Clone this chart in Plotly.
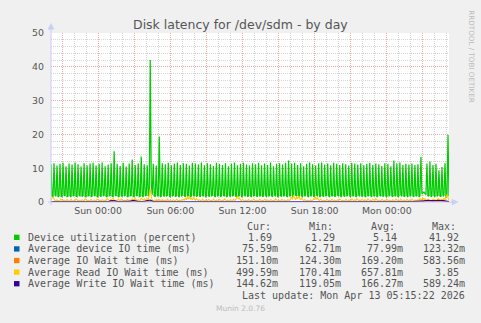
import plotly.graph_objects as go
import pandas as pd

W, H = 481, 323

# ---------------- data ----------------
START = "2026-04-11 20:05"
X_END = "2026-04-13 05:10"
STEP = "5min"

# Device utilization (percent): one peak sample then two low samples every 15 min
util_peaks = [
    11.2, 11.5, 10.8, 11.3, 11.6, 10.6, 11.4, 11.1, 11.7, 11.2, 10.5, 11.5, 10.9, 11.4,
    11.6, 10.8, 11.3, 11.7, 10.6, 11.1, 11.5, 15.0, 11.3, 10.7, 11.6, 10.5, 11.4,
    12.6, 11.0, 11.4, 13.5, 11.2, 10.9, 42.0, 11.3, 10.8, 19.4,
    11.5, 11.2, 11.6, 10.9, 11.4, 11.7, 11.0, 11.5, 11.3, 10.8, 11.6, 11.4, 11.1, 11.7,
    10.9, 11.5, 11.2, 10.7, 11.6, 11.3, 11.0, 11.5, 10.6, 11.4, 11.7, 10.9, 11.3, 11.6,
    11.1, 10.8, 11.5, 11.2, 11.6, 10.9, 11.4, 11.0, 11.7, 10.6, 11.3, 11.5, 11.1, 11.6,
    12.3,
    11.4, 11.6, 11.0, 11.5, 10.6, 11.3, 11.7, 11.2, 10.8, 11.5, 11.7, 11.1, 11.4, 10.9,
    11.6, 11.3, 11.0, 11.5, 11.2, 10.8, 11.6, 11.4, 11.1, 11.5, 10.9, 11.3, 11.6, 11.0,
    11.4, 11.2, 10.7, 11.5, 11.3, 10.6,
    12.3,
    11.5, 11.7, 11.0, 11.3, 11.1, 11.4, 11.0, 11.2,
    13.4, 3.0,
    11.4, 12.0, 11.0, 11.3, 9.4, 10.4, 11.5,
    19.9,
]
util_lows = [
    1.8, 1.6, 2.0, 1.7, 1.5, 1.9, 1.7, 1.6, 2.1, 1.8, 1.6, 1.7, 1.9, 1.5, 1.8, 2.0, 1.7, 1.6, 1.9, 1.8,
    1.6, 2.0, 1.7, 1.5, 1.8, 1.9, 1.6, 1.7, 2.1, 1.8, 1.5, 1.7, 1.9, 1.6, 1.8, 2.0, 1.7, 1.5, 1.8, 1.9,
    1.7, 1.6, 2.0, 1.8, 1.5, 1.7, 1.9, 1.6, 1.8, 2.1, 1.7, 1.5, 1.8, 1.9, 1.6, 1.7, 2.0, 1.8, 1.6, 1.7,
    1.9, 1.5, 1.8, 2.0, 1.7, 2.6, 5.5, 2.2, 1.8, 1.6, 1.9, 1.7, 1.5, 1.8, 2.0, 1.6, 1.7, 1.9, 1.8, 1.5,
    1.7, 2.0, 1.6, 1.8, 1.9, 1.5, 1.7, 2.1, 1.8, 1.6, 1.7, 1.9, 1.5, 1.8, 2.0, 1.7, 1.6, 1.9, 1.8, 1.6,
    2.0, 1.7, 1.5, 1.8, 1.9, 1.6, 1.7, 2.1, 1.8, 1.5, 1.7, 1.9, 1.6, 1.8, 2.0, 1.7, 1.5, 1.8, 1.9, 1.6,
    1.7, 2.0, 1.8, 1.6, 1.7, 1.9, 1.5, 1.8, 2.1, 1.7, 1.6, 1.8, 1.9, 1.5, 1.7, 2.0, 1.8, 1.6, 1.7, 1.9,
    1.6, 1.8, 2.0, 1.5, 1.7, 1.9, 1.8, 1.6, 2.1, 1.7, 1.5, 1.8, 1.9, 1.6, 1.7, 2.0, 1.8, 1.5, 1.7, 1.9,
    1.6, 1.8, 2.0, 1.7, 1.5, 1.9, 1.8, 1.6, 1.7, 2.1, 1.8, 1.5, 1.7, 1.9, 1.6, 1.8, 2.0, 1.7, 1.5, 1.8,
    1.9, 1.6, 1.7, 2.0, 1.8, 1.5, 1.7, 1.9, 1.6, 1.8, 2.1, 1.7, 1.5, 1.8, 1.9, 1.6, 1.7, 2.0, 1.8, 1.6,
    1.7, 1.9, 1.5, 1.8, 2.0, 1.7, 1.6, 1.9, 1.8, 1.5, 1.7, 2.1, 1.8, 1.6, 1.7, 1.9, 1.5, 1.8, 2.0, 1.7,
    1.6, 1.9, 1.8, 1.5, 1.7, 2.0, 1.8, 1.6, 1.7, 1.9, 1.5, 1.8, 2.1, 1.7, 1.6, 1.8, 1.9, 1.5, 1.7, 2.0,
    1.8, 1.6, 1.7, 1.9, 1.5, 1.8, 2.4, 2.6, 2.5, 2.2, 1.7, 1.9, 1.6, 1.8, 2.0, 1.5, 1.7, 1.9, 1.8, 1.6,
    1.7, 2.0, 1.29, 1.8, 1.69,
]

# Average Read IO Wait time (ms), 5-min samples
read_wait = [
    0.45, 1.30, 1.45, 0.80, 0.40, 0.35, 0.70, 0.45, 0.30, 0.55, 0.90, 0.40, 0.35, 0.60, 0.45, 0.30, 0.75, 0.50, 0.35, 0.45,
    0.85, 0.40, 0.30, 0.55, 0.40, 0.95, 0.45, 0.35, 0.60, 0.40, 0.30, 0.70, 0.45, 0.35, 1.00, 0.50, 0.40, 0.55, 0.35, 0.45,
    0.80, 0.40, 0.30, 0.65, 0.45, 0.35, 0.90, 0.50, 0.40, 0.55, 0.35, 0.75, 0.45, 0.30, 0.60, 0.40, 1.10, 0.55, 0.40, 0.45,
    0.70, 1.05, 1.20, 0.60, 0.40, 0.55, 0.35, 0.80, 0.45, 0.40, 0.95, 0.50, 0.35, 0.60, 0.40, 0.30, 0.85, 0.45, 0.40, 0.65,
    0.45, 0.95, 0.60, 0.40, 1.10, 0.55, 0.35, 0.70, 0.45, 0.50, 1.20, 0.80, 0.50, 0.95, 0.60, 0.45, 1.15, 0.70, 2.00, 3.85,
    1.60, 0.60, 0.40, 0.55, 0.35, 0.80, 0.45, 0.40, 0.65, 0.35, 0.30, 0.75, 0.45, 0.35, 0.55, 0.40, 0.90, 0.45, 0.35, 0.60,
    0.40, 0.35, 0.70, 0.45, 0.30, 0.85, 0.50, 0.40, 0.55, 0.35, 0.65, 0.45, 0.80, 0.55, 1.20, 0.70, 1.50, 0.90, 1.65, 0.80,
    1.20, 0.60, 1.40, 0.75, 0.55, 1.00, 0.50, 0.40, 0.70, 0.45, 0.35, 0.85, 0.45, 0.35, 0.60, 0.40, 0.30, 0.75, 0.45, 0.40,
    0.55, 0.35, 0.90, 0.45, 0.35, 0.65, 0.40, 0.30, 0.80, 0.50, 0.35, 0.55, 0.40, 0.95, 0.45, 0.35, 0.60, 0.40, 0.30, 0.70,
    0.45, 0.40, 0.85, 0.50, 0.60, 1.10, 1.70, 0.90, 1.30, 0.60, 0.45, 0.80, 0.40, 0.35, 0.60, 0.45, 0.30, 0.75, 0.45, 0.35,
    0.55, 0.40, 0.90, 0.45, 0.35, 0.60, 0.40, 0.30, 0.80, 0.45, 0.35, 0.55, 0.40, 0.85, 0.45, 0.35, 0.65, 0.40, 0.30, 0.75,
    0.50, 0.35, 0.55, 0.40, 0.95, 0.45, 0.35, 0.60, 0.40, 0.30, 0.80, 0.45, 0.40, 0.65, 0.35, 0.30, 0.70, 0.50, 0.45, 0.90,
    1.40, 0.80, 2.05, 1.10, 0.70, 1.60, 0.90, 1.80, 0.85, 0.60, 1.20, 0.55, 0.40, 0.75, 0.45, 0.35, 0.60, 0.40, 0.30, 0.70,
    0.45, 0.55, 1.00, 0.65, 1.50, 0.80, 1.35, 0.60, 0.45, 0.90, 0.45, 0.35, 0.60, 0.40, 0.30, 0.75, 0.45, 0.40, 0.55, 0.35,
    0.85, 0.45, 0.35, 0.60, 0.40, 0.30, 0.70, 0.45, 0.95, 0.50, 0.35, 0.55, 0.40, 0.30, 0.80, 0.45, 0.35, 0.65, 0.40, 0.30,
    0.90, 0.50, 0.40, 0.70, 0.45, 1.00, 0.55, 0.35, 0.60, 0.40, 0.85, 0.45, 0.35, 0.70, 0.40, 0.30, 0.95, 0.50, 0.40, 0.55,
    0.35, 0.80, 0.45, 0.35, 1.00, 0.50, 0.40, 0.60, 0.35, 0.30, 0.75, 0.45, 0.40, 0.55, 0.35, 0.85, 0.45, 0.35, 0.60, 0.40,
    0.30, 0.70, 0.45, 0.35, 0.90, 0.50, 0.40, 0.55, 0.35, 0.80, 0.45, 0.30, 0.65, 0.40, 0.35, 0.75, 0.45, 0.40, 0.60, 0.35,
    0.85, 0.45, 0.35, 0.60, 0.40, 0.55, 0.70, 0.45, 1.10, 0.60, 0.90, 1.25, 0.70, 1.00, 0.55, 0.40, 0.85, 0.45, 0.35, 0.60,
    0.40, 0.90, 0.50, 0.35, 0.70, 0.45, 1.05, 0.55, 0.40, 0.80, 0.45, 0.60, 1.20, 0.50, 1.40, 2.20, 1.30, 0.50,
]

# Average Write IO Wait time (ms), 5-min samples
write_wait = [
    0.15, 0.14, 0.16, 0.15, 0.13, 0.15, 0.16, 0.14, 0.15, 0.15, 0.14, 0.16, 0.15, 0.13, 0.15, 0.16, 0.14, 0.15, 0.15, 0.14,
    0.16, 0.15, 0.14, 0.15, 0.13, 0.16, 0.15, 0.14, 0.15, 0.16, 0.14, 0.15, 0.13, 0.15, 0.16, 0.14, 0.15, 0.15, 0.14, 0.16,
    0.15, 0.14, 0.15, 0.16, 0.13, 0.15, 0.14, 0.16, 0.15, 0.14, 0.15, 0.13, 0.16, 0.15, 0.14, 0.15, 0.16, 0.14, 0.15, 0.35,
    0.45, 0.50, 0.42, 0.48, 0.30, 0.16, 0.15, 0.14, 0.15, 0.13, 0.16, 0.15, 0.14, 0.15, 0.16, 0.14, 0.15, 0.13, 0.15, 0.20,
    0.40, 0.48, 0.45, 0.50, 0.42, 0.30, 0.15, 0.14, 0.16, 0.15, 0.14, 0.15, 0.13, 0.16, 0.35, 0.45, 0.50, 0.42, 0.55, 0.59,
    0.40, 0.18, 0.15, 0.14, 0.16, 0.15, 0.13, 0.15, 0.14, 0.16, 0.15, 0.14, 0.15, 0.16, 0.13, 0.15, 0.14, 0.15, 0.16, 0.14,
    0.15, 0.16, 0.14, 0.15, 0.13, 0.15, 0.16, 0.14, 0.15, 0.15, 0.14, 0.16, 0.15, 0.13, 0.15, 0.16, 0.14, 0.15, 0.15, 0.14,
    0.16, 0.15, 0.14, 0.15, 0.13, 0.16, 0.15, 0.14, 0.15, 0.16, 0.14, 0.15, 0.13, 0.15, 0.16, 0.14, 0.15, 0.15, 0.14, 0.16,
    0.15, 0.14, 0.15, 0.16, 0.13, 0.15, 0.14, 0.16, 0.15, 0.14, 0.15, 0.13, 0.16, 0.15, 0.14, 0.15, 0.16, 0.14, 0.15, 0.15,
    0.14, 0.16, 0.15, 0.13, 0.15, 0.16, 0.14, 0.15, 0.15, 0.14, 0.16, 0.15, 0.14, 0.15, 0.13, 0.16, 0.15, 0.14, 0.15, 0.16,
    0.15, 0.14, 0.16, 0.15, 0.13, 0.15, 0.16, 0.14, 0.15, 0.15, 0.14, 0.16, 0.15, 0.13, 0.15, 0.16, 0.14, 0.15, 0.15, 0.14,
    0.16, 0.15, 0.14, 0.15, 0.13, 0.16, 0.15, 0.14, 0.15, 0.16, 0.14, 0.15, 0.13, 0.15, 0.16, 0.14, 0.15, 0.15, 0.14, 0.16,
    0.15, 0.14, 0.15, 0.16, 0.13, 0.15, 0.14, 0.16, 0.15, 0.14, 0.15, 0.13, 0.16, 0.15, 0.14, 0.15, 0.16, 0.14, 0.15, 0.15,
    0.14, 0.16, 0.15, 0.13, 0.15, 0.16, 0.14, 0.15, 0.15, 0.14, 0.16, 0.15, 0.14, 0.15, 0.13, 0.16, 0.15, 0.14, 0.15, 0.16,
    0.15, 0.14, 0.16, 0.15, 0.13, 0.15, 0.16, 0.14, 0.15, 0.15, 0.14, 0.16, 0.15, 0.13, 0.15, 0.16, 0.14, 0.15, 0.15, 0.14,
    0.16, 0.15, 0.14, 0.15, 0.13, 0.16, 0.15, 0.14, 0.15, 0.16, 0.14, 0.15, 0.13, 0.15, 0.16, 0.14, 0.15, 0.15, 0.14, 0.16,
    0.15, 0.14, 0.15, 0.16, 0.13, 0.15, 0.14, 0.16, 0.15, 0.14, 0.15, 0.13, 0.16, 0.15, 0.14, 0.15, 0.16, 0.14, 0.15, 0.15,
    0.14, 0.16, 0.15, 0.13, 0.15, 0.16, 0.14, 0.15, 0.15, 0.14, 0.16, 0.15, 0.14, 0.15, 0.13, 0.16, 0.15, 0.14, 0.15, 0.16,
    0.15, 0.14, 0.16, 0.15, 0.13, 0.15, 0.14, 0.16, 0.15, 0.14, 0.15, 0.16, 0.35, 0.45, 0.50, 0.42, 0.48, 0.52, 0.45, 0.40,
    0.45, 0.50, 0.42, 0.48, 0.40, 0.46, 0.50, 0.44, 0.38, 0.45, 0.50, 0.42, 0.47, 0.40, 0.35, 0.30, 0.20, 0.14,
]

# Hourly samples of the two nearly-flat series
HOURLY = "1h"
dev_io_time = [0.08, 0.07, 0.08, 0.08, 0.09, 0.08, 0.07, 0.08, 0.09, 0.12, 0.08, 0.07, 0.08, 0.08, 0.07, 0.08, 0.08,
               0.07, 0.08, 0.08, 0.07, 0.08, 0.08, 0.09, 0.08, 0.07, 0.08, 0.08, 0.07, 0.08, 0.08, 0.09, 0.08, 0.076]
io_wait_time = [0.17, 0.16, 0.17, 0.18, 0.17, 0.16, 0.17, 0.19, 0.20, 0.58, 0.17, 0.16, 0.16, 0.17, 0.16, 0.17, 0.16,
                0.16, 0.17, 0.16, 0.17, 0.16, 0.17, 0.16, 0.16, 0.17, 0.16, 0.17, 0.16, 0.18, 0.17, 0.19, 0.17, 0.15]

x_tickvals = ["2026-04-11 21:00", "2026-04-12 00:00", "2026-04-12 03:00", "2026-04-12 06:00",
              "2026-04-12 09:00", "2026-04-12 12:00", "2026-04-12 15:00", "2026-04-12 18:00",
              "2026-04-12 21:00", "2026-04-13 00:00", "2026-04-13 03:00"]
x_ticktext = ["", "Sun 00:00", "", "Sun 06:00", "", "Sun 12:00", "", "Sun 18:00", "", "Mon 00:00", ""]
y_tickvals = [0, 10, 20, 30, 40, 50]

series_names = ["Device utilization (percent)", "Average device IO time (ms)", "Average IO Wait time (ms)",
                "Average Read IO Wait time (ms)", "Average Write IO Wait time (ms)"]
series_colors = ["#00CC00", "#0066B3", "#FF8000", "#FFCC00", "#330099"]
cur_vals = ["1.69", "75.59m", "151.10m", "499.59m", "144.62m"]
min_vals = ["1.29", "62.71m", "124.30m", "170.41m", "119.05m"]
avg_vals = ["5.14", "77.99m", "169.20m", "657.81m", "166.27m"]
max_vals = ["41.92", "123.32m", "583.56m", "3.85", "589.24m"]
col_headers = ["Cur:", "Min:", "Avg:", "Max:"]

TITLE = "Disk latency for /dev/sdm - by day"
LAST_UPDATE = "Last update: Mon Apr 13 05:15:22 2026"
SIDE = "RRDTOOL / TOBI OETIKER"
FOOT = "Munin 2.0.76"

# ---------------- build series ----------------
x5 = pd.date_range(START, periods=len(read_wait), freq=STEP)
xh = pd.date_range(START, periods=len(dev_io_time), freq=HOURLY)

util = []
pi, li = 0, 0
for i in range(len(read_wait)):
    if i % 3 == 0:
        util.append(util_peaks[pi]); pi += 1
    else:
        util.append(util_lows[li]); li += 1

# ---------------- figure ----------------
def px(v):
    return v / W

def py(v):
    return 1 - v / H

PL, PR, PT, PB = 51, 449, 28, 203
TXT = "#555555"
AXC = "#C8CEF5"

fig = go.Figure()
traces_y = [(x5, util), (xh, dev_io_time), (xh, io_wait_time), (x5, read_wait), (x5, write_wait)]
widths = [1.25, 1, 1, 1.1, 1.1]
for (xs, ys), name, col, lw in zip(traces_y, series_names, series_colors, widths):
    fig.add_trace(go.Scatter(x=xs, y=ys, mode="lines", name=name,
                             line=dict(color=col, width=lw), hoverinfo="skip"))

fig.update_layout(
    width=W, height=H, margin=dict(l=0, r=0, t=0, b=0),
    paper_bgcolor="#F0F0F0", plot_bgcolor="#FFFFFF",
    showlegend=False,
    font=dict(family="DejaVu Sans", color=TXT, size=10),
    xaxis=dict(
        domain=[px(PL), px(PR)], range=[START, X_END], type="date",
        tickmode="array", tickvals=x_tickvals, ticktext=x_ticktext,
        showgrid=True, gridcolor="#E8A8A8", griddash="1px,1px", gridwidth=1,
        minor=dict(dtick=3600000, tick0="2026-04-11 21:00", showgrid=True,
                   gridcolor="#D6D6D6", griddash="1px,1px", gridwidth=1),
        showline=False, zeroline=False, ticks="",
        tickfont=dict(family="DejaVu Sans", size=9.4, color=TXT),
        ticklabelstandoff=2,
    ),
    yaxis=dict(
        domain=[py(PB), py(PT)], range=[0, 50],
        tickmode="array", tickvals=y_tickvals,
        showgrid=True, gridcolor="#E8A8A8", griddash="1px,1px", gridwidth=1,
        minor=dict(dtick=2, tick0=0, showgrid=True,
                   gridcolor="#D6D6D6", griddash="1px,1px", gridwidth=1),
        showline=False, zeroline=False, ticks="",
        tickfont=dict(family="DejaVu Sans", size=9.4, color=TXT),
        ticklabelstandoff=6,
    ),
)

shapes = []
# axis lines with arrows (decoration)
shapes.append(dict(type="line", xref="paper", yref="paper", x0=px(48), x1=px(454), y0=py(PB), y1=py(PB),
                   line=dict(color=AXC, width=1), layer="above"))
shapes.append(dict(type="line", xref="paper", yref="paper", x0=px(PL), x1=px(PL), y0=py(206), y1=py(22),
                   line=dict(color=AXC, width=1), layer="above"))
shapes.append(dict(type="path", xref="paper", yref="paper",
                   path=f"M {px(452)} {py(PB-3)} L {px(458)} {py(PB)} L {px(452)} {py(PB+3)} Z",
                   fillcolor=AXC, line=dict(color=AXC, width=0.5), layer="above"))
shapes.append(dict(type="path", xref="paper", yref="paper",
                   path=f"M {px(PL-3)} {py(24)} L {px(PL)} {py(18)} L {px(PL+3)} {py(24)} Z",
                   fillcolor=AXC, line=dict(color=AXC, width=0.5), layer="above"))

# legend swatches
row_y = [239.5, 251.5, 263.5, 275.5, 287.5]
for ry, col in zip(row_y, series_colors):
    shapes.append(dict(type="rect", xref="paper", yref="paper", x0=px(14), x1=px(19.5),
                       y0=py(ry + 2.75), y1=py(ry - 2.75), fillcolor=col, line=dict(width=0)))
fig.update_layout(shapes=shapes)

ann = []
ann.append(dict(text=TITLE, x=px(240.5), y=py(19), xref="paper", yref="paper", showarrow=False,
                xanchor="center", yanchor="middle", font=dict(family="DejaVu Sans", size=12.5, color=TXT)))
ann.append(dict(text=SIDE, x=px(472), y=py(52), xref="paper", yref="paper", showarrow=False,
                xanchor="center", yanchor="middle", textangle=90,
                font=dict(family="DejaVu Sans", size=7.2, color="#BBBBBB")))
ann.append(dict(text=FOOT, x=px(240), y=py(313), xref="paper", yref="paper", showarrow=False,
                xanchor="center", yanchor="middle", font=dict(family="DejaVu Sans", size=7.5, color="#BBBBBB")))

mono = dict(family="DejaVu Sans Mono", size=10, color=TXT)
header_x = [245, 307, 369, 430]
for hx, h in zip(header_x, col_headers):
    ann.append(dict(text=h, x=px(hx), y=py(228), xref="paper", yref="paper", showarrow=False,
                    xanchor="left", yanchor="middle", font=mono))
col_right = [280, 342.5, 405, 467]
for r, (ry, name) in enumerate(zip(row_y, series_names)):
    ann.append(dict(text=name, x=px(26), y=py(ry), xref="paper", yref="paper", showarrow=False,
                    xanchor="left", yanchor="middle", font=mono))
    for cx, vals in zip(col_right, [cur_vals, min_vals, avg_vals, max_vals]):
        v = vals[r]
        rx = cx if v.endswith("m") else cx - 6
        ann.append(dict(text=v, x=px(rx), y=py(ry), xref="paper", yref="paper", showarrow=False,
                        xanchor="right", yanchor="middle", font=mono))
ann.append(dict(text=LAST_UPDATE, x=px(467), y=py(299.7), xref="paper", yref="paper", showarrow=False,
                xanchor="right", yanchor="middle", font=mono))
fig.update_layout(annotations=ann)

fig.write_html("out.html", config={"displayModeBar": False})
